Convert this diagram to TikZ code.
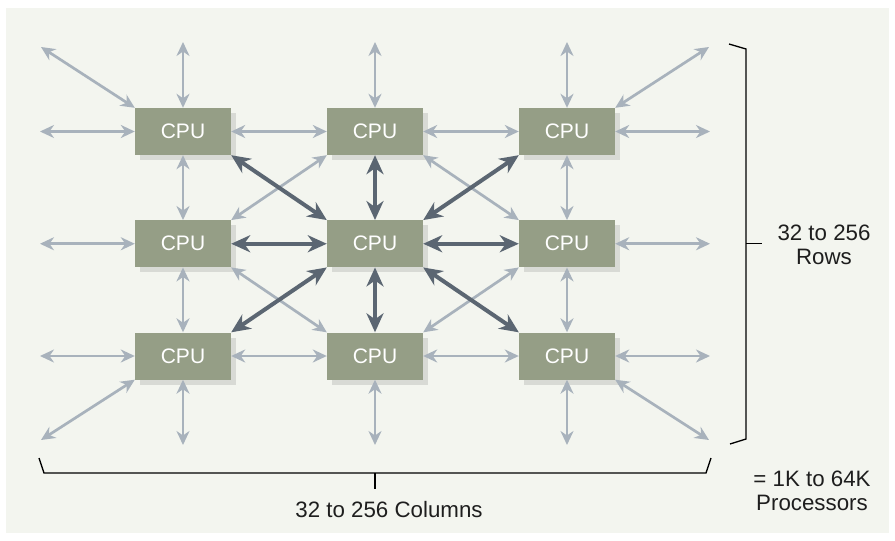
\documentclass[tikz,border=0pt]{standalone}
\usepackage{fontspec}
\setmainfont{Liberation Sans}
\usetikzlibrary{arrows.meta,shadows}
\definecolor{bgc}{HTML}{F3F5EF}
\definecolor{cpufill}{HTML}{959E86}
\definecolor{shadowc}{HTML}{D8DAD5}
\definecolor{lightarr}{HTML}{A8B2BC}
\definecolor{darkarr}{HTML}{5B6672}
\definecolor{txt}{HTML}{1E1E1E}
\begin{document}
\begin{tikzpicture}[x=1pt,y=-1pt,
  cpu/.style={fill=cpufill, minimum width=96pt, minimum height=47pt, inner sep=0pt,
    text=white, font=\fontsize{21}{24}\selectfont,
    drop shadow={shadow xshift=5pt,shadow yshift=-5pt,fill=shadowc,opacity=1}},
  la/.style={draw=lightarr, line width=2.7pt,
    {Stealth[length=14pt,width=13pt,inset=4.5pt]}-{Stealth[length=14pt,width=13pt,inset=4.5pt]}},
  da/.style={draw=darkarr, line width=4pt,
    {Stealth[length=19pt,width=17pt,inset=6pt]}-{Stealth[length=19pt,width=17pt,inset=6pt]}},
  lbl/.style={text=txt, font=\fontsize{22.3}{24}\selectfont, align=center, inner sep=0pt},
  brk/.style={draw=black, line width=1.3pt}]
\useasboundingbox (0,0) rectangle (895,541);
\fill[white] (0,0) rectangle (895,541);
\fill[bgc] (6,8) rectangle (889,533);
% CPU nodes
\node[cpu] (c11) at (183,131.5) {CPU};
\node[cpu] (c12) at (375,131.5) {CPU};
\node[cpu] (c13) at (567,131.5) {CPU};
\node[cpu] (c21) at (183,243.75) {CPU};
\node[cpu] (c22) at (375,243.75) {CPU};
\node[cpu] (c23) at (567,243.75) {CPU};
\node[cpu] (c31) at (183,356) {CPU};
\node[cpu] (c32) at (375,356) {CPU};
\node[cpu] (c33) at (567,356) {CPU};
% outer ends
\coordinate (t1) at (183,42);
\coordinate (t2) at (375,42);
\coordinate (t3) at (567,42);
\coordinate (b1) at (183,445);
\coordinate (b2) at (375,445);
\coordinate (b3) at (567,445);
\coordinate (l1) at (40,131.5);
\coordinate (l2) at (40,243.75);
\coordinate (l3) at (40,356);
\coordinate (r1) at (710,131.5);
\coordinate (r2) at (710,243.75);
\coordinate (r3) at (710,356);
\coordinate (tl) at (41,47);
\coordinate (tr) at (709,47);
\coordinate (bl) at (41,440);
\coordinate (br) at (709,440);
% outer arrows
\draw[la] (t1) -- (c11.north);
\draw[la] (t2) -- (c12.north);
\draw[la] (t3) -- (c13.north);
\draw[la] (c31.south) -- (b1);
\draw[la] (c32.south) -- (b2);
\draw[la] (c33.south) -- (b3);
\draw[la] (l1) -- (c11.west);
\draw[la] (l2) -- (c21.west);
\draw[la] (l3) -- (c31.west);
\draw[la] (c13.east) -- (r1);
\draw[la] (c23.east) -- (r2);
\draw[la] (c33.east) -- (r3);
\draw[la] (tl) -- (c11.north west);
\draw[la] (tr) -- (c13.north east);
\draw[la] (bl) -- (c31.south west);
\draw[la] (br) -- (c33.south east);
% inner light arrows
\draw[la] (c11.east) -- (c12.west);
\draw[la] (c12.east) -- (c13.west);
\draw[la] (c31.east) -- (c32.west);
\draw[la] (c32.east) -- (c33.west);
\draw[la] (c11.south) -- (c21.north);
\draw[la] (c21.south) -- (c31.north);
\draw[la] (c13.south) -- (c23.north);
\draw[la] (c23.south) -- (c33.north);
\draw[la] (c21.north east) -- (c12.south west);
\draw[la] (c12.south east) -- (c23.north west);
\draw[la] (c21.south east) -- (c32.north west);
\draw[la] (c32.north east) -- (c23.south west);
% dark arrows
\draw[da] (c12.south) -- (c22.north);
\draw[da] (c22.south) -- (c32.north);
\draw[da] (c21.east) -- (c22.west);
\draw[da] (c22.east) -- (c23.west);
\draw[da] (c11.south east) -- (c22.north west);
\draw[da] (c13.south west) -- (c22.north east);
\draw[da] (c31.north east) -- (c22.south west);
\draw[da] (c33.north west) -- (c22.south east);
% brackets
\coordinate (bx1) at (39,458);
\coordinate (bx2) at (44,473);
\coordinate (bx3) at (706,473);
\coordinate (bx4) at (711,458);
\coordinate (bxm) at (375,473);
\coordinate (bxt) at (375,489);
\draw[brk] (bx1) -- (bx2) -- (bx3) -- (bx4);
\draw[brk] (bxm) -- (bxt);
\coordinate (by1) at (729,44);
\coordinate (by2) at (746,49);
\coordinate (by3) at (746,439);
\coordinate (by4) at (730,444);
\coordinate (bym) at (746,243.5);
\coordinate (byt) at (762,243.5);
\draw[brk] (by1) -- (by2) -- (by3) -- (by4);
\draw[brk] (bym) -- (byt);
% labels
\node[lbl] (cols) at (389,509.5) {32 to 256 Columns};
\node[lbl] (rows) at (824,245) {32 to 256\\Rows};
\node[lbl] (proc) at (812,491) {= 1K to 64K\\Processors};
\end{tikzpicture}
\end{document}
